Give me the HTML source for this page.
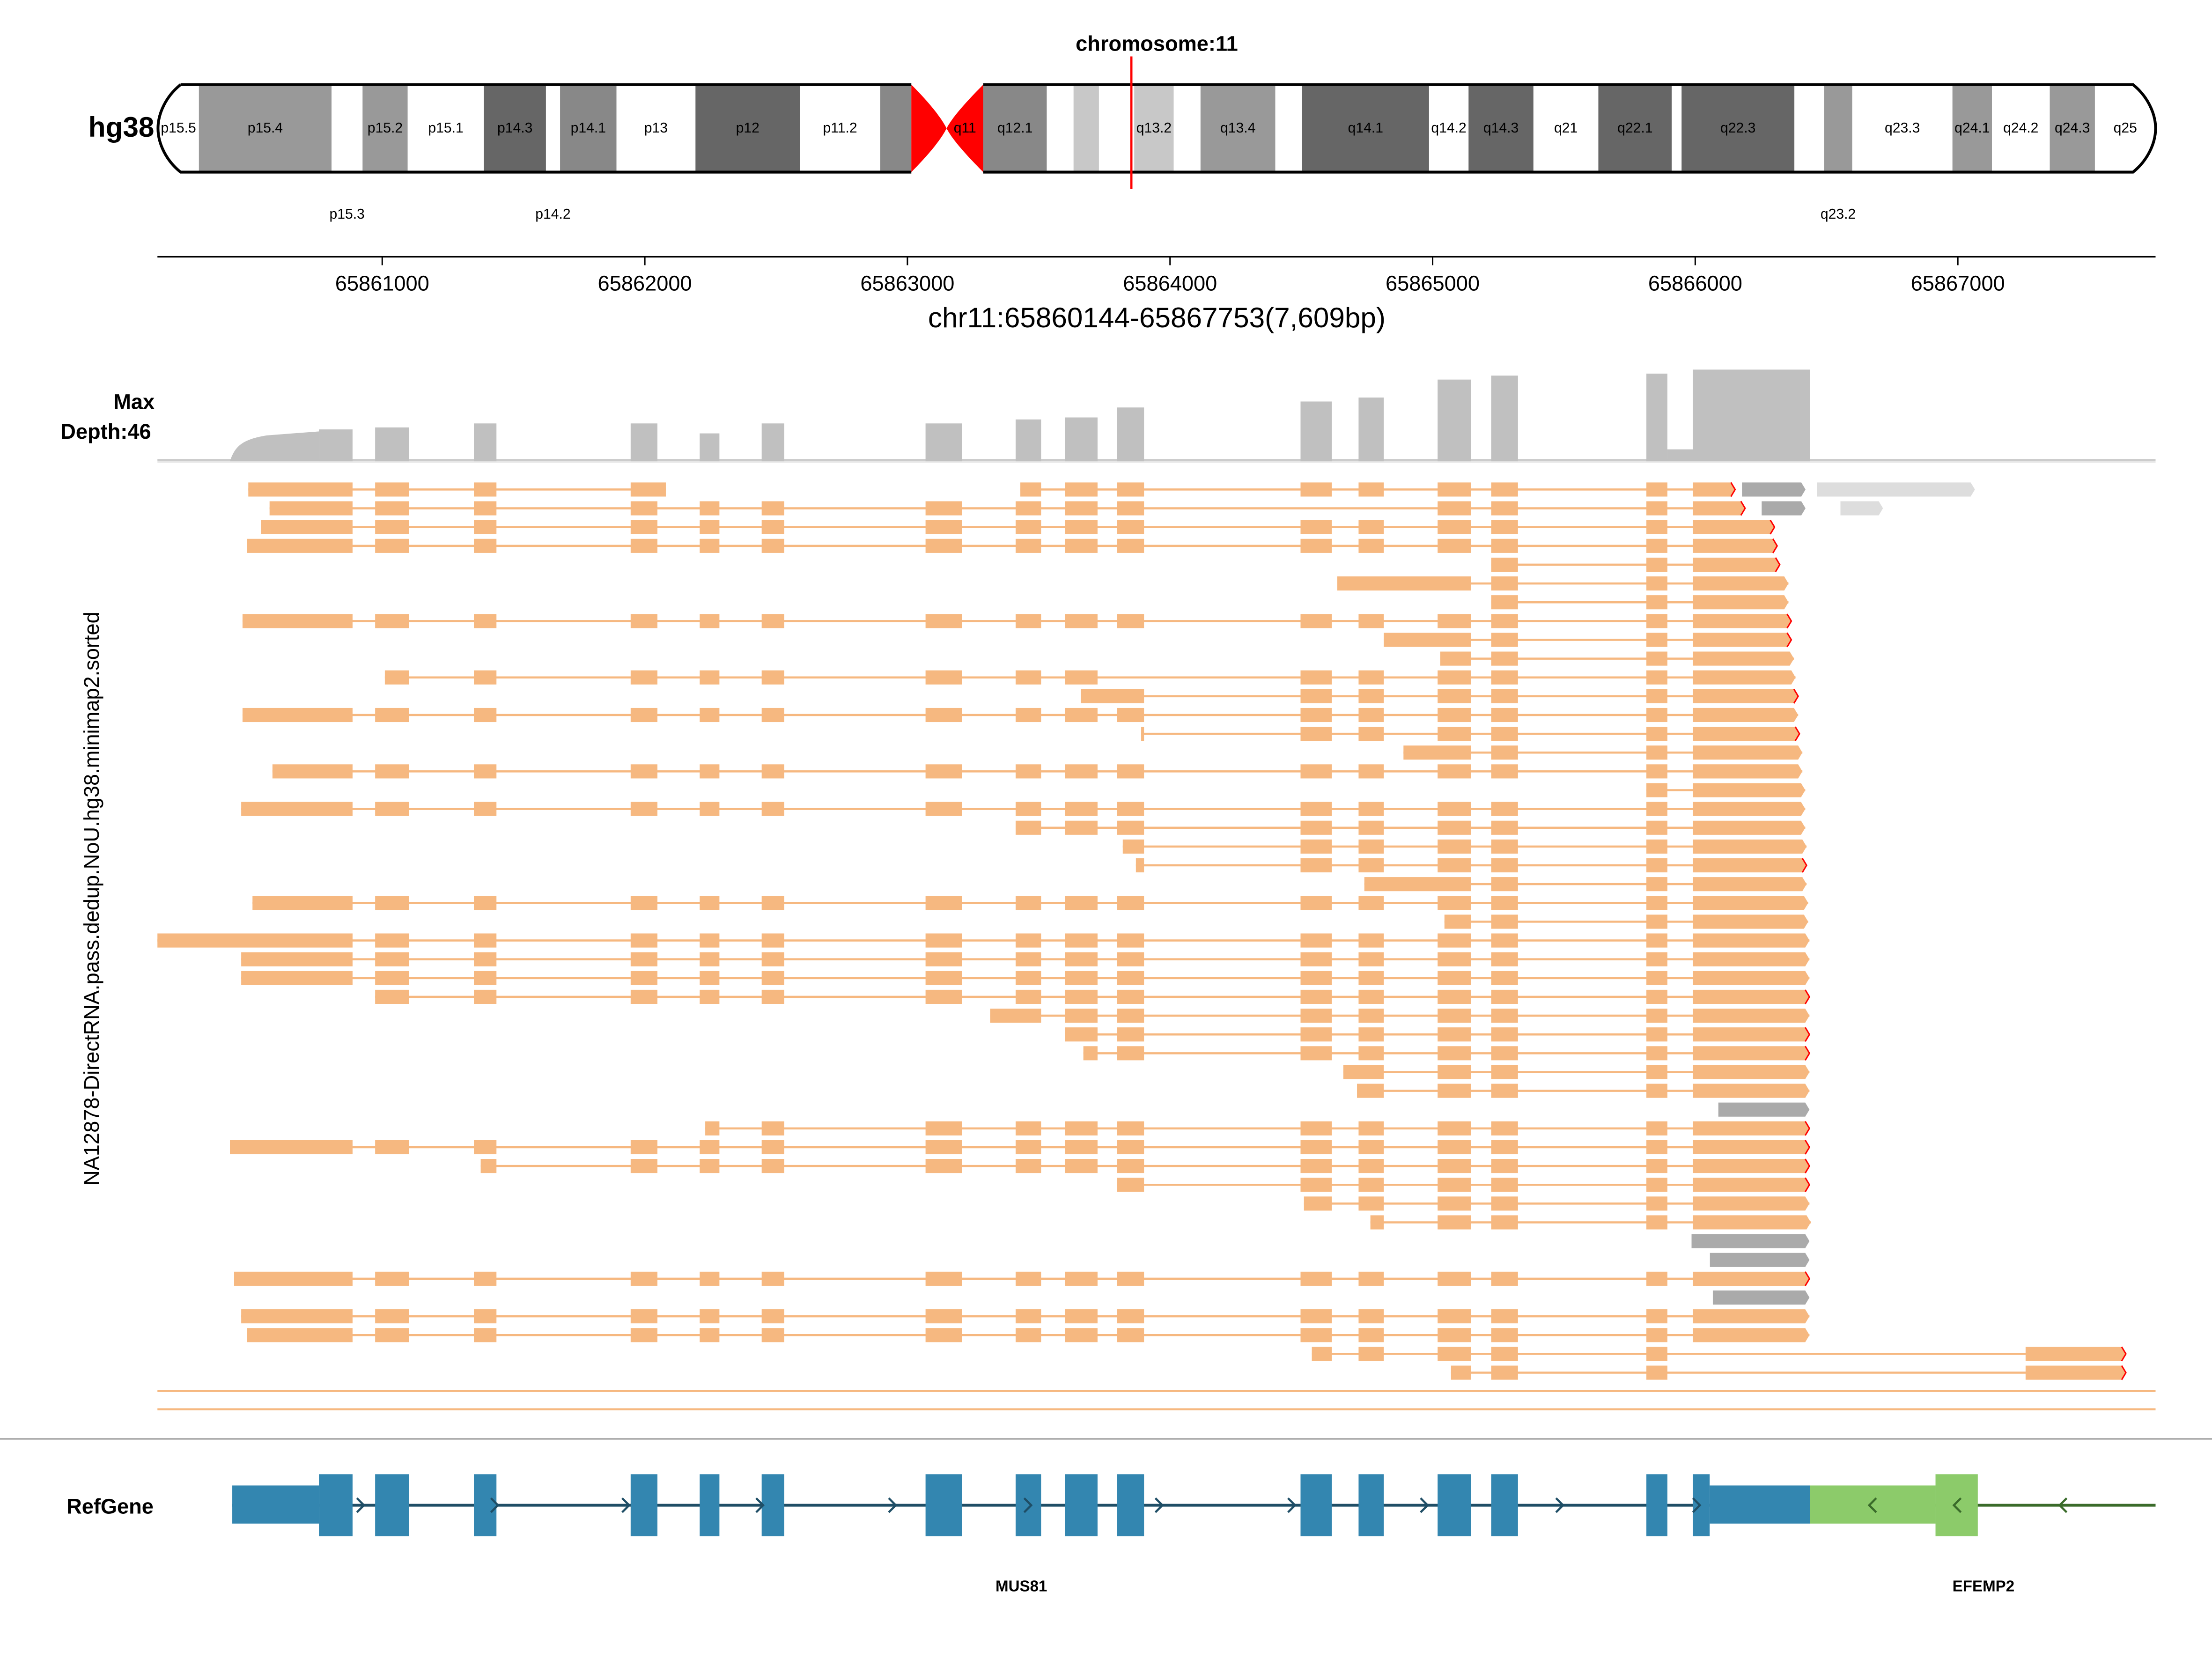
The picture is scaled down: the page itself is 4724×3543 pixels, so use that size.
<!DOCTYPE html>
<html><head><meta charset="utf-8"><style>html,body{margin:0;padding:0;background:#fff}svg{display:block}text{font-family:"Liberation Sans",sans-serif}</style></head>
<body>
<svg id="chart" xmlns="http://www.w3.org/2000/svg" width="4724" height="3543" viewBox="0 0 1568 1176" preserveAspectRatio="none">
<g id="ideo"></g>
<g id="axis"></g>
<g id="cov"></g>
<g id="reads"></g>
<g id="gene"></g>
</svg>
<script>
const NS="http://www.w3.org/2000/svg";
function mk(p,tag,a,txt){const e=document.createElementNS(NS,tag);for(const k in a)e.setAttribute(k,a[k]);if(txt!==undefined)e.textContent=txt;p.appendChild(e);return e;}
// ---- data ----
const regionStart=65860144, regionEnd=65867753;
const tickValues=[65861000,65862000,65863000,65864000,65865000,65866000,65867000];
const bandNames=["p15.5","p15.4","p15.3","p15.2","p15.1","p14.3","p14.2","p14.1","p13","p12","p11.2","p11.12","cen","q12.1","q12.2","q12.3","q13.1","q13.2","q13.3","q13.4","q13.5","q14.1","q14.2","q14.3","q21","q22.1","q22.2","q22.3","q23.1","q23.2","q23.3","q24.1","q24.2","q24.3","q25"];
const bandStart=[112,141,235,257,289,343,387,397,437,493,567,624,646,697,742,761,779,804,832,851,904,923,1013,1041,1087,1133,1185,1192,1272,1293,1313,1384,1412,1453,1485,1528];
const bandStain=["w","g2","w","g2","w","g4","w","g3","w","g4","w","g3","cen","g3","w","g1","w","g1","w","g2","w","g4","w","g4","w","g4","w","g4","w","g2","w","g2","w","g2","w"];
const bandLabelInside=["p15.5","p15.4","p15.2","p15.1","p14.3","p14.1","p13","p12","p11.2","q12.1","q13.2","q13.4","q14.1","q14.2","q14.3","q21","q22.1","q22.3","q23.3","q24.1","q24.2","q24.3","q25"];
const bandLabelBelow=["p15.3","p14.2","q23.2"];
const exonStart=[65860759,65860973,65861349,65861946,65862209,65862445,65863069,65863412,65863600,65863799,65864497,65864718,65865019,65865223,65865814,65865991];
const exonEnd  =[65860887,65861102,65861435,65862048,65862284,65862531,65863208,65863509,65863724,65863901,65864616,65864814,65865147,65865325,65865894,65866437];
const exonDepth=[16,17,19,19,14,19,19,21,22,27,30,32,41,43,44,46];
const readRows=[
 [["0123",65860490,65862080,"f"],["789ABCDEF",65863430,65866152,"r"],["G",65866178,65866420,"g"],["L",65866463,65867065,"l"]],
 [["0123456789CDEF",65860571,65866190,"r"],["G",65866253,65866420,"g"],["L",65866553,65866715,"l"]],
 [["0123456789ABCDEF",65860538,65866302,"r"]],
 [["0123456789ABCDEF",65860485,65866312,"r"]],
 [["DEF",0,65866322,"r"]],
 [["CDEF",65864637,65866355,"a"]],
 [["DEF",0,65866355,"a"]],
 [["0123456789ABCDEF",65860468,65866366,"r"]],
 [["CDEF",65864814,65866366,"r"]],
 [["CDEF",65865029,65866376,"a"]],
 [["12345678ABCDEF",65861010,65866382,"a"]],
 [["9ABCDEF",65863660,65866392,"r"]],
 [["0123456789ABCDEF",65860468,65866392,"a"]],
 [["9ABCDEF",65863890,65866397,"r"]],
 [["CDEF",65864889,65866408,"a"]],
 [["0123456789ABCDEF",65860582,65866408,"a"]],
 [["EF",0,65866419,"a"]],
 [["0123456789ABCDEF",65860463,65866419,"a"]],
 [["789ABCDEF",0,65866419,"a"]],
 [["9ABCDEF",65863820,65866424,"a"]],
 [["9ABCDEF",65863870,65866424,"r"]],
 [["CDEF",65864740,65866424,"a"]],
 [["0123456789ABCDEF",65860506,65866430,"a"]],
 [["CDEF",65865045,65866430,"a"]],
 [["0123456789ABCDEF",65860144,65866435,"a"]],
 [["0123456789ABCDEF",65860463,65866435,"a"]],
 [["0123456789ABCDEF",65860463,65866435,"a"]],
 [["123456789ABCDEF",0,65866435,"r"]],
 [["789ABCDEF",65863315,65866435,"a"]],
 [["89ABCDEF",0,65866435,"r"]],
 [["89ABCDEF",65863670,65866435,"r"]],
 [["BCDEF",65864660,65866435,"a"]],
 [["BCDEF",65864712,65866435,"a"]],
 [["G",65866088,65866435,"g"]],
 [["456789ABCDEF",65862230,65866435,"r"]],
 [["0123456789ABCDEF",65860420,65866435,"r"]],
 [["23456789ABCDEF",65861375,65866435,"r"]],
 [["9ABCDEF",0,65866435,"r"]],
 [["ABCDEF",65864510,65866435,"a"]],
 [["BCDEF",65864763,65866440,"a"]],
 [["G",65865986,65866435,"g"]],
 [["G",65866056,65866435,"g"]],
 [["0123456789ABCDEF",65860436,65866435,"r"]],
 [["G",65866067,65866435,"g"]],
 [["0123456789ABCDEF",65860463,65866435,"a"]],
 [["0123456789ABCDEF",65860485,65866435,"a"]],
 [["ABCDEH",65864540,65867640,"r"]],
 [["CDEH",65865070,65867640,"r"]]
];
const utrStartBp=65860429, cdsEndBp=65866055, efempCdsStartBp=65866915, efempCdsEndBp=65867076;
// ---- scales ----
const X0=111.6,X1=1528;
function xs(bp){return X0+(bp-regionStart)/(regionEnd-regionStart)*(X1-X0);}
const colors={g1:"#c8c8c8",g2:"#999",g3:"#888",g4:"#666",w:"#fff"};
// ---- ideogram ----
const ideo=document.getElementById('ideo');
let t=mk(ideo,'text',{x:86,y:97,'font-size':20,'font-weight':'bold','text-anchor':'middle'},'hg38');


for(let i=0;i<bandNames.length;i++){
 const x=bandStart[i],w=bandStart[i+1]-x,s=bandStain[i],nm=bandNames[i];
 if(s==="cen"){
  const p=mk(ideo,'path',{d:`M${x} 60 C${x+15} 75 ${x+22} 85 ${x+25} 91 C${x+28} 85 ${x+36} 75 ${x+51} 60 L${x+51} 122 C${x+36} 107 ${x+28} 97 ${x+25} 91 C${x+22} 97 ${x+15} 107 ${x} 122Z`,fill:'red'});
  
  
  continue;}
 const r=mk(ideo,'rect',{x:x,y:61,width:w,height:60,fill:colors[s]});
 
 
 if(bandLabelBelow.includes(nm)){const l=mk(ideo,'text',{x:x+w/2,y:155,'font-size':10,'text-anchor':'middle'},nm);
  
  }
 else if(bandLabelInside.includes(nm)){
  const l=mk(ideo,'text',{x:x+w/2,y:94,'font-size':10,'text-anchor':'middle'},nm);
  
  }
}
t=mk(ideo,'text',{x:684,y:94,'font-size':10,'text-anchor':'middle'},'q11');


let o=mk(ideo,'path',{d:'M128 60 L646 60 M697 60 L1512 60 C1522 68 1528 80 1528 91 C1528 102 1522 114 1512 122 L697 122 M646 122 L128 122 C118 114 112 102 112 91 C112 80 118 68 128 60',fill:'none',stroke:'#000','stroke-width':2});


o=mk(ideo,'line',{x1:802,x2:802,y1:40,y2:134,stroke:'red','stroke-width':1.5});


o=mk(ideo,'text',{x:820,y:36,'font-size':15,'font-weight':'bold','text-anchor':'middle'},'chromosome:11');


// ---- axis ----
const ax=document.getElementById('axis');
o=mk(ax,'line',{x1:X0,x2:X1,y1:182,y2:182,stroke:'#000','stroke-width':1});


tickValues.forEach(v=>{const x=xs(v);
 const l=mk(ax,'line',{x1:x,x2:x,y1:182,y2:188,stroke:'#000','stroke-width':1});
 
 
 const tx=mk(ax,'text',{x:x,y:206,'font-size':15,'text-anchor':'middle'},String(v));
 
 });
o=mk(ax,'text',{x:820,y:232,'font-size':20,'text-anchor':'middle'},'chr11:65860144-65867753(7,609bp)');


// ---- coverage ----
const cv=document.getElementById('cov');
const maxDepth=46,base=327,cH=65;
function ys(d){return base-d/maxDepth*cH;}
o=mk(cv,'text',{x:95,y:290,'font-size':15,'font-weight':'bold','text-anchor':'middle'},'Max');


o=mk(cv,'text',{x:75,y:311,'font-size':15,'font-weight':'bold','text-anchor':'middle'},'Depth:46');


o=mk(cv,'rect',{x:X0,y:ys(1.2),width:X1-X0,height:base-ys(1.2),fill:'#ccc'});


o=mk(cv,'line',{x1:X0,x2:X1,y1:base+0.5,y2:base+0.5,stroke:'#e6e6e6','stroke-width':1});


for(let i=0;i<exonStart.length;i++){
 const x=xs(exonStart[i]),w=xs(exonEnd[i])-x;
 const r=mk(cv,'rect',{x:x,y:ys(exonDepth[i]),width:w,height:base-ys(exonDepth[i]),fill:'#c0c0c0'});
 
 }
o=mk(cv,'path',{d:`M${xs(65860420)} ${base} C${xs(65860440)} ${ys(8)} ${xs(65860470)} ${ys(11)} ${xs(65860560)} ${ys(13)} L${xs(65860759)} ${ys(15)} L${xs(65860759)} ${base}Z`,fill:'#c0c0c0'});


o=mk(cv,'rect',{x:xs(65865894),y:ys(6),width:xs(65865991)-xs(65865894),height:base-ys(6),fill:'#c0c0c0'});


// ---- reads ----
const rd=document.getElementById('reads');
o=mk(rd,'text',{x:70,y:637,'font-size':15,'text-anchor':'middle',transform:'rotate(-90 70 637)'},'NA12878-DirectRNA.pass.dedup.NoU.hg38.minimap2.sorted');


const RC="#f6b880";
const extraStartBp=65867258;
readRows.forEach((row,ri)=>{
 const y=347+ri*13.32;
 row.forEach(rdd=>{
  const [cols,sb,eb,flag]=rdd;
  const g=mk(rd,'g',{});
  
  
  const blocks=[];
  const single=(cols==="G"||cols==="L");
  for(const c of cols){
   if(c==="G"||c==="L"){blocks.push([sb,eb]);continue;}
   if(c==="H"){blocks.push([extraStartBp,eb]);continue;}
   const k=parseInt(c,16);blocks.push([exonStart[k],exonEnd[k]]);}
  if(sb&&!single)blocks[0][0]=sb;
  const last=blocks[blocks.length-1];if(!single&&!cols.endsWith("H")&&eb)last[1]=eb;
  const fill=flag==="g"?"#aaa":flag==="l"?"#ddd":RC;
  if(blocks.length>1)mk(g,'line',{x1:xs(blocks[0][0]),x2:xs(last[1]),y1:y,y2:y,stroke:RC,'stroke-width':1.5});
  blocks.forEach((b,bi)=>{
   const x1=xs(b[0]),x2=xs(b[1]);
   if(bi===blocks.length-1&&flag!=="f"){
    mk(g,'path',{d:`M${x1} ${y-5}L${x2-3} ${y-5}L${x2} ${y}L${x2-3} ${y+5}L${x1} ${y+5}Z`,fill:fill});
    if(flag==="r")mk(g,'path',{d:`M${x2-3} ${y-5}L${x2} ${y}L${x2-3} ${y+5}`,fill:'none',stroke:'red','stroke-width':1});
   } else mk(g,'rect',{x:x1,y:y-5,width:Math.max(1,x2-x1),height:10,fill:fill});
  });
 });
});
[986,999].forEach(y=>{const l=mk(rd,'line',{x1:X0,x2:X1,y1:y,y2:y,stroke:RC,'stroke-width':1.5});
 
 });
o=mk(rd,'line',{x1:0,x2:1568,y1:1020,y2:1020,stroke:'#999','stroke-width':1});


// ---- refgene ----
const gn=document.getElementById('gene');
const GC="#3386b0",GL="#1f4e66",EC="#8ccb6a";
o=mk(gn,'text',{x:78,y:1073,'font-size':15,'font-weight':'bold','text-anchor':'middle'},'RefGene');


o=mk(gn,'line',{x1:xs(utrStartBp),x2:xs(exonEnd[15]),y1:1067,y2:1067,stroke:GL,'stroke-width':2});


o=mk(gn,'line',{x1:xs(exonEnd[15]),x2:X1,y1:1067,y2:1067,stroke:'#3a6b2a','stroke-width':2});


o=mk(gn,'rect',{x:xs(utrStartBp),y:1053,width:xs(exonStart[0])-xs(utrStartBp),height:27,fill:GC});


for(let i=0;i<exonStart.length;i++){
 const x=xs(exonStart[i]),w=(i===15?xs(cdsEndBp):xs(exonEnd[i]))-x;
 const r=mk(gn,'rect',{x:x,y:1045,width:w,height:44,fill:GC});
 
 }
o=mk(gn,'rect',{x:xs(cdsEndBp),y:1053,width:xs(exonEnd[15])-xs(cdsEndBp),height:27,fill:GC});


o=mk(gn,'rect',{x:xs(exonEnd[15]),y:1053,width:xs(efempCdsStartBp)-xs(exonEnd[15]),height:27,fill:EC});


o=mk(gn,'rect',{x:xs(efempCdsStartBp),y:1045,width:xs(efempCdsEndBp)-xs(efempCdsStartBp),height:44,fill:EC});


[258,353,446,541,635,731,824,918,1012,1108,1205].forEach(x=>{const c=mk(gn,'path',{d:`M${x-5} 1062L${x} 1067L${x-5} 1072`,fill:'none',stroke:GL,'stroke-width':1.5});
 
 });
[1325,1385,1460].forEach(x=>{const c=mk(gn,'path',{d:`M${x+5} 1062L${x} 1067L${x+5} 1072`,fill:'none',stroke:'#3a6b2a','stroke-width':1.5});
 
 });
o=mk(gn,'text',{x:724,y:1128,'font-size':11,'font-weight':'bold','text-anchor':'middle'},'MUS81');


o=mk(gn,'text',{x:1406,y:1128,'font-size':11,'font-weight':'bold','text-anchor':'middle'},'EFEMP2');


</script>
</body></html>
